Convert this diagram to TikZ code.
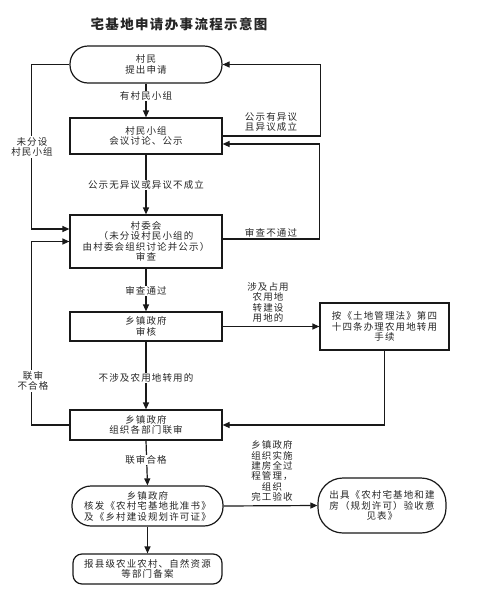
\documentclass[tikz,border=0pt]{standalone}
\usepackage{fontspec}
\setmainfont{Noto Sans CJK SC}[LetterSpace=12]
\newfontfamily\titlefont{Noto Sans CJK SC}[LetterSpace=10]
\usetikzlibrary{arrows.meta}
\begin{document}
\begin{tikzpicture}[x=1pt,y=-1pt,
  every node/.style={font=\fontsize{9.5}{10.4}\selectfont, text=black!85},
  box/.style={draw=black!90, line width=1.2pt, minimum width=152pt, align=center, inner sep=1pt},
  lbl/.style={fill=white, align=center, inner sep=1pt},
  arr/.style={draw=black!90, line width=1.2pt, -{Triangle[length=7pt,width=6pt]}},
  ln/.style={draw=black!90, line width=1.2pt}]
\useasboundingbox (0,0) rectangle (503,600);
\node[font=\titlefont\bfseries\fontsize{13.5}{15}\selectfont] (title) at (179,24) {宅基地申请办事流程示意图};

\node[box, minimum height=37pt, rounded corners=18pt] (n1) at (146,64.5) {村民\\提出申请};
\node[box, minimum height=36pt] (n2) at (146,136) {村民小组\\会议讨论、公示};
\node[box, minimum height=53pt] (n3) at (146,241.5) {村委会\\（未分设村民小组的\\由村委会组织讨论并公示）\\审查};
\node[box, minimum height=29pt] (n4) at (146,326.5) {乡镇政府\\审核};
\node[box, minimum height=30pt] (n5) at (146,425) {乡镇政府\\组织各部门联审};
\node[box, minimum width=151pt, minimum height=40pt, rounded corners=19pt] (n6) at (147.5,506) {乡镇政府\\核发《农村宅基地批准书》\\及《乡村建设规划许可证》};
\node[box, minimum width=149pt, minimum height=30pt, rounded corners=9pt] (n8) at (147.5,569) {报县级农业农村、自然资源\\等部门备案};
\node[box, minimum width=129pt, minimum height=47pt] (r4) at (384.5,326.5) {按《土地管理法》第四\\十四条办理农用地转用\\手续};
\node[box, minimum width=128pt, minimum height=55pt, rounded corners=25pt] (n7) at (382,505.5) {出具《农村宅基地和建\\房（规划许可）验收意\\见表》};

% main vertical flow
\draw[arr] (n1.south) -- (n2.north);
\node[lbl] (l1) at (146,96) {有村民小组};
\draw[arr] (n2.south) -- (n3.north);
\node[lbl] (l2) at (146,185) {公示无异议或异议不成立};
\draw[arr] (n3.south) -- (n4.north);
\node[lbl] (l3) at (146,291) {审查通过};
\draw[arr] (n4.south) -- (n5.north);
\node[lbl] (l4) at (146,378) {不涉及农用地转用的};
\draw[arr] (n5.south) -- (n6.north);
\node[lbl] (l5) at (146,460) {联审合格};
\draw[arr] (n6.south) -- (n8.north);

% right feedback loops
\draw[arr] (n2.east) -- ++(98,0) |- (n1.east);
\node[align=center] (l6) at (271,122) {公示有异议\\且异议成立};
\draw[arr] ([yshift=2.5pt]n3.east) -- ++(97,0) |- ([yshift=-8pt]n2.east);
\node (l7) at (271,233) {审查不通过};

% left loops
\draw[arr] (n1.west) -- ++(-38,0) |- ([yshift=12.5pt]n3.west);
\node[lbl] (l8) at (32,147) {未分设\\村民小组};
\draw[arr] (n5.west) -- ++(-38,0) |- (n3.west);
\node[lbl] (l9) at (33,381) {联审\\不合格};

% side branches
\draw[arr] (n4.east) -- (r4.west);
\node[align=center] (l10) at (268,302.5) {涉及占用\\农用地\\转建设\\用地的};
\draw[arr] (r4.south) |- (n5.east);
\draw[arr] (n6.east) -- (n7.west);
\node[align=center] (l11) at (272,471) {乡镇政府\\组织实施\\建房全过\\程管理，\\组织\\完工验收};
\end{tikzpicture}
\end{document}
